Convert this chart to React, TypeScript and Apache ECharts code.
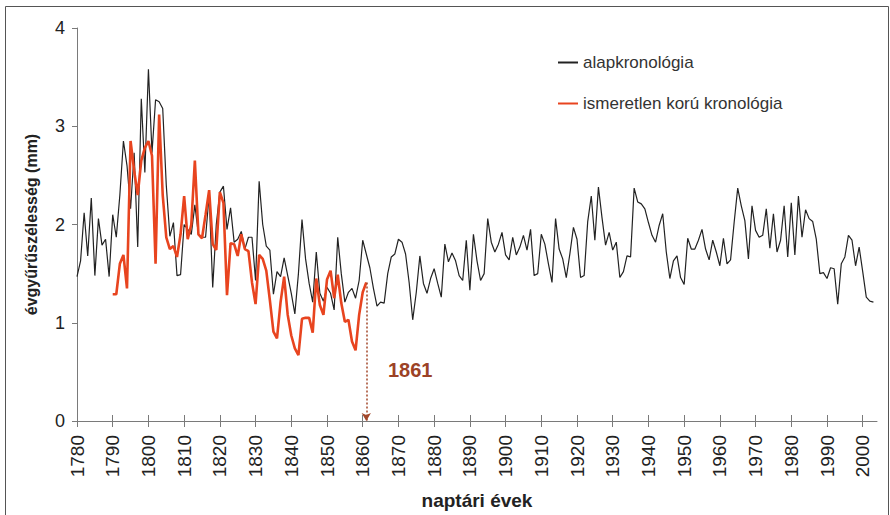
import React, { useEffect, useRef } from "react";
import * as echarts from "echarts";

const baseStartYear = 1780;
const baseValues = [
  1.47, 1.63, 2.12, 1.68, 2.27, 1.48, 2.06, 1.79, 1.85, 1.47, // 1780-1789
  2.10, 1.87, 2.30, 2.85, 2.60, 2.16, 2.73, 1.77, 3.28, 2.53, // 1790-1799
  3.58, 2.73, 3.27, 3.25, 3.18, 2.40, 1.88, 2.02, 1.48, 1.49, // 1800-1809
  2.00, 1.95, 1.90, 2.20, 1.90, 1.87, 1.87, 2.30, 1.36, 2.00, // 1810-1819
  2.33, 2.39, 1.95, 2.17, 1.82, 1.85, 1.93, 1.75, 1.87, 1.87, // 1820-1829
  1.43, 2.44, 2.00, 1.78, 1.74, 1.29, 1.52, 1.47, 1.66, 1.48, // 1830-1839
  1.30, 1.09, 1.50, 2.05, 1.65, 1.40, 1.21, 1.72, 1.30, 1.22, // 1840-1849
  1.36, 1.30, 1.13, 1.87, 1.50, 1.21, 1.31, 1.35, 1.25, 1.43, // 1850-1859
  1.84, 1.70, 1.56, 1.35, 1.17, 1.21, 1.20, 1.50, 1.67, 1.70, // 1860-1869
  1.85, 1.82, 1.70, 1.41, 1.03, 1.31, 1.68, 1.40, 1.30, 1.45, // 1870-1879
  1.55, 1.40, 1.26, 1.80, 1.62, 1.71, 1.63, 1.48, 1.43, 1.84, // 1880-1889
  1.33, 1.90, 1.63, 1.43, 1.50, 2.06, 1.82, 1.72, 1.80, 1.92, // 1890-1899
  1.69, 1.64, 1.87, 1.69, 1.77, 1.89, 1.74, 1.95, 1.48, 1.50, // 1900-1909
  1.90, 1.80, 1.60, 1.41, 2.06, 1.75, 1.65, 1.46, 1.70, 1.97, // 1910-1919
  1.85, 1.46, 1.48, 2.03, 2.29, 1.84, 2.38, 2.07, 1.79, 1.92, // 1920-1929
  1.74, 1.82, 1.46, 1.52, 1.68, 1.67, 2.37, 2.23, 2.21, 2.16, // 1930-1939
  2.02, 1.89, 1.82, 1.99, 2.11, 1.72, 1.45, 1.63, 1.68, 1.46, // 1940-1949
  1.39, 1.86, 1.75, 1.75, 1.84, 1.95, 1.75, 1.64, 1.84, 1.72, // 1950-1959
  1.58, 1.86, 1.60, 1.64, 2.02, 2.37, 2.19, 2.04, 1.65, 2.19, // 1960-1969
  1.94, 1.87, 1.89, 2.16, 1.76, 2.11, 1.72, 1.84, 2.19, 1.67, // 1970-1979
  2.22, 1.69, 2.29, 1.87, 2.15, 2.06, 2.03, 1.85, 1.50, 1.51, // 1980-1989
  1.45, 1.56, 1.55, 1.19, 1.60, 1.67, 1.89, 1.84, 1.58, 1.77, // 1990-1999
  1.52, 1.26, 1.22, 1.21, // 2000-2003
];

const unknownStartYear = 1790;
const unknownValues = [
  1.29, 1.29, 1.60, 1.69, 1.35, 2.85, 2.55, 2.30, 2.65, 2.78, // 1790-1799
  2.85, 2.70, 1.60, 3.12, 2.30, 1.87, 1.75, 1.78, 1.67, 1.90, // 1800-1809
  2.29, 1.85, 2.00, 2.65, 1.90, 1.86, 2.10, 2.35, 1.80, 1.74, // 1810-1819
  2.33, 2.22, 1.28, 1.81, 1.80, 1.68, 1.90, 1.75, 1.73, 1.41, // 1820-1829
  1.19, 1.69, 1.65, 1.53, 1.23, 0.91, 0.84, 1.21, 1.47, 1.08, // 1830-1839
  0.87, 0.74, 0.67, 1.04, 1.05, 1.05, 0.90, 1.45, 1.18, 1.08, // 1840-1849
  1.44, 1.53, 1.25, 1.49, 1.20, 1.01, 1.03, 0.81, 0.72, 1.08, // 1850-1859
  1.31, 1.41, // 1860-1861
];

const xTicks = [1780, 1790, 1800, 1810, 1820, 1830, 1840, 1850, 1860, 1870, 1880, 1890, 1900, 1910, 1920, 1930, 1940, 1950, 1960, 1970, 1980, 1990, 2000];
const seriesNames = ["alapkronológia", "ismeretlen korú kronológia"];
const markYear = 1861;
const markLabel = "1861";
const xTitle = "naptári évek";
const yTitle = "évgyűrűszélesség (mm)";

const FONT = "'Liberation Sans', Arial, Helvetica, sans-serif";
const BLACK = "#222222";
const RED = "#e8441f";

export default function App() {
  const ref = useRef<HTMLDivElement>(null);

  useEffect(() => {
    document.body.style.margin = "0";
    const el = ref.current;
    if (!el) return;
    const chart = echarts.init(el, null, { renderer: "svg" });

    const baseData = baseValues.map((v, i) => [baseStartYear + i, v]);
    const unknownData = unknownValues.map((v, i) => [unknownStartYear + i, v]);
    const markVal = unknownValues[markYear - unknownStartYear];

    const option: any = {
      animation: false,
      backgroundColor: "#ffffff",
      textStyle: { fontFamily: FONT },
      grid: { left: 77, right: 13, top: 28, bottom: 92, containLabel: false },
      legend: {
        orient: "vertical",
        left: 553,
        top: 49,
        itemWidth: 20,
        itemHeight: 2,
        itemGap: 24,
        textStyle: { fontSize: 17, color: "#333", fontFamily: FONT },
        data: [
          { name: seriesNames[0], icon: "rect", itemStyle: { color: BLACK } },
          { name: seriesNames[1], icon: "rect", itemStyle: { color: RED } },
        ],
      },
      xAxis: [
        {
          type: "value",
          min: 1780,
          max: 2004,
          name: xTitle,
          nameLocation: "middle",
          nameGap: 70,
          nameTextStyle: { fontSize: 19, fontWeight: "bold", color: "#222", fontFamily: FONT },
          axisLine: { show: true, lineStyle: { color: "#7a7a7a", width: 1 } },
          axisTick: { show: true, length: 6, customValues: xTicks, lineStyle: { color: "#7a7a7a" } },
          axisLabel: {
            customValues: xTicks,
            formatter: (v: number) => String(v),
            rotate: 90,
            fontSize: 19,
            color: "#222",
            margin: 14,
            fontFamily: FONT,
          },
          splitLine: { show: false },
        },
        {
          type: "value",
          min: 1780,
          max: 2004,
          position: "bottom",
          axisLine: { show: false },
          axisTick: { show: true, inside: true, length: 6, customValues: xTicks, lineStyle: { color: "#7a7a7a" } },
          axisLabel: { show: false },
          splitLine: { show: false },
        },
      ],
      yAxis: {
        type: "value",
        min: 0,
        max: 4,
        interval: 1,
        name: yTitle,
        nameLocation: "middle",
        nameGap: 38,
        nameTextStyle: { fontSize: 16, fontWeight: "bold", color: "#222", fontFamily: FONT },
        axisLine: { show: true, lineStyle: { color: "#7a7a7a", width: 1 } },
        axisTick: { show: true, length: 5, lineStyle: { color: "#7a7a7a" } },
        axisLabel: { fontSize: 18, color: "#222", margin: 12, fontFamily: FONT },
        splitLine: { show: false },
      },
      series: [
        {
          name: seriesNames[0],
          type: "line",
          data: baseData,
          symbol: "none",
          lineStyle: { color: BLACK, width: 1.2 },
          itemStyle: { color: BLACK },
          z: 2,
        },
        {
          name: seriesNames[1],
          type: "line",
          data: unknownData,
          symbol: "none",
          lineStyle: { color: RED, width: 2.6 },
          itemStyle: { color: RED },
          z: 3,
          markLine: {
            silent: true,
            symbol: ["none", "arrow"],
            symbolSize: [7, 8],
            label: { show: false },
            lineStyle: { type: [2, 2], color: "#a3472a", width: 1.5 },
            data: [[{ coord: [markYear, markVal] }, { coord: [markYear, 0] }]],
          },
        },
      ],
      graphic: [
        {
          type: "rect",
          left: 3,
          top: 4,
          shape: { width: 883, height: 540 },
          style: { fill: "none", stroke: "#555", lineWidth: 1 },
          silent: true,
        },
        {
          type: "text",
          left: 388,
          top: 360,
          style: {
            text: markLabel,
            font: `bold 20px ${FONT}`,
            fill: "#9c4226",
          },
        },
      ],
    };

    chart.setOption(option);
    return () => chart.dispose();
  }, []);

  return <div ref={ref} style={{ width: 890, height: 515 }} />;
}
